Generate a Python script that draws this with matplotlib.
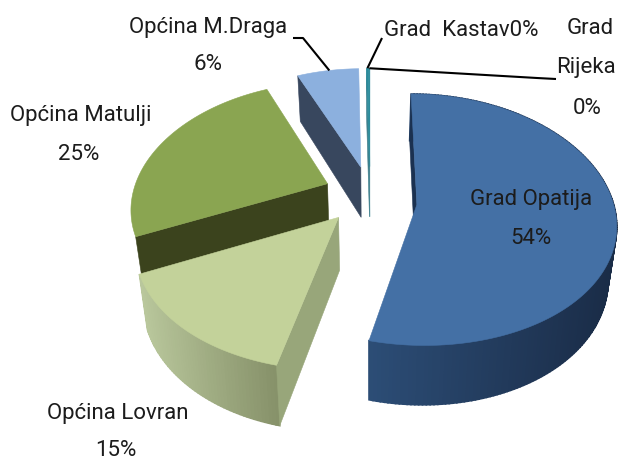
import numpy as np
import matplotlib
matplotlib.use("Agg")
import matplotlib.pyplot as plt
from matplotlib.colors import to_rgb
from matplotlib.patches import Polygon

# share of each municipality, clockwise from the top
names = ["Grad Opatija", "Općina Lovran", "Općina Matulji", "Općina M.Draga", "Grad Kastav", "Grad Rijeka"]
values = [53.9, 15.0, 24.9, 5.9, 0.2, 0.1]
percent_labels = ["54%", "15%", "25%", "6%", "0%", "0%"]

# top, cut face, rim left end, rim right end
colors = {
    "Grad Opatija": ("#4470a5", "#1b3150", "#1a2c47", "#2c4d76"),
    "Općina Lovran": ("#c3d29a", "#98a67a", "#b9c79c", "#87926a"),
    "Općina Matulji": ("#8aa551", "#3b431d", "#6f8440", "#6f8440"),
    "Općina M.Draga": ("#8cb0de", "#38475e", "#38475e", "#38475e"),
    "Grad Kastav": ("#2b8c9c", "#3f7f8c", "#3f7f8c", "#3f7f8c"),
    "Grad Rijeka": ("#2b8c9c", "#6fa5ae", "#6fa5ae", "#6fa5ae"),
}

CX, CY = 370, 201
RX, RY = 196, 123
K = 0.12          # perspective, height
KX = 0.14         # perspective, width
EXPLODE = 0.24
DEPTH = 52
SHRINK = 0.965    # lower rim leans in
LIFT = 0.05       # tips sit a bit further back, except the big slice


def project(u, v):
    return CX + RX * u / (1 + KX * v), CY - RY * v / (1 + K * v)


def lower(u, v):
    x, y = project(u, v)
    return CX + (x - CX) * SHRINK, y + DEPTH / (1 + K * v)


def mix(c1, c2, t):
    a, b = np.array(to_rgb(c1)), np.array(to_rgb(c2))
    return a + (b - a) * t


fig = plt.figure(figsize=(6.19, 4.63), dpi=100)
ax = fig.add_axes([0, 0, 1, 1])
ax.set_xlim(0, 619)
ax.set_ylim(463, 0)
ax.axis("off")

# angles in degrees, clockwise from the top
edges = np.cumsum([0] + values) / sum(values) * 360
wedges = {}
for i, name in enumerate(names):
    a0, a1 = edges[i], edges[i + 1]
    mid = np.radians((a0 + a1) / 2)
    ou, ov = EXPLODE * np.sin(mid), EXPLODE * np.cos(mid)
    th = np.radians(np.linspace(a0, a1, max(int(a1 - a0), 2) + 1))
    rim_u, rim_v = ou + np.sin(th), ov + np.cos(th)
    if name != "Grad Opatija":
        ov += LIFT
    wedges[name] = (ou, ov, rim_u, rim_v)


def draw_cut(ou, ov, u, v, color, z):
    pts = [project(ou, ov), project(u, v), lower(u, v), lower(ou, ov)]
    ax.add_patch(Polygon(pts, fc=color, ec=color, lw=0.4, zorder=z))


# back to front
order = ["Općina Matulji", "Općina M.Draga", "Grad Rijeka", "Grad Kastav", "Grad Opatija", "Općina Lovran"]
for n, name in enumerate(order):
    ou, ov, us, vs = wedges[name]
    top, cut, rim0, rim1 = colors[name]
    z = 2 + n * 3
    # rim drawn piece by piece for the shading, back slices hide theirs
    if name in ("Grad Opatija", "Općina Lovran"):
        for j in range(len(us) - 1):
            x = project(us[j], vs[j])[0]
            if name == "Općina Lovran":
                col = mix(rim0, rim1, np.clip((x - 140) / 135, 0, 1))
            else:
                col = mix(rim1, rim0, np.clip((x - 370) / 245, 0, 1))
            pts = [project(us[j], vs[j]), project(us[j + 1], vs[j + 1]),
                   lower(us[j + 1], vs[j + 1]), lower(us[j], vs[j])]
            ax.add_patch(Polygon(pts, fc=col, ec=col, lw=1.2, zorder=z))
    # cut face
    draw_cut(ou, ov, us[0], vs[0], cut, z + 1)
    # top
    pts = [project(ou, ov)] + [project(a, b) for a, b in zip(us, vs)]
    ax.add_patch(Polygon(pts, fc=top, ec=top, lw=0.4, zorder=z + 2))

# leader lines, from the rim of the slice to the label
rim = {name: project(wedges[name][2][len(wedges[name][2]) // 2],
                     wedges[name][3][len(wedges[name][3]) // 2]) for name in names}
leaders = {
    "Općina M.Draga": [(293, 38), (303, 38)],
    "Grad Kastav": [(382, 38)],
    "Grad Rijeka": [(556, 79), (537, 78)],
}
for name, path in leaders.items():
    xs = [p[0] for p in path] + [rim[name][0]]
    ys = [p[1] for p in path] + [rim[name][1]]
    ax.plot(xs, ys, color="black", lw=1.5, zorder=30, solid_capstyle="butt")

font = dict(family="Roboto", fontsize=16, color="#1c1c1c", ha="center", va="center", zorder=40)
ax.text(531, 200, names[0], **font)
ax.text(531, 238, percent_labels[0], **font)
ax.text(118, 414, names[1], **font)
ax.text(116, 451, percent_labels[1], **font)
ax.text(81, 116, names[2], **font)
ax.text(79, 154, percent_labels[2], **font)
ax.text(208, 28, names[3], **font)
ax.text(208, 64, percent_labels[3], **font)
ax.text(461, 30, "Grad  Kastav" + percent_labels[4], **font)
ax.text(590, 28, "Grad", **font)
ax.text(586, 68, "Rijeka", **font)
ax.text(587, 109, percent_labels[5], **font)

fig.savefig("out.png", dpi=100)
